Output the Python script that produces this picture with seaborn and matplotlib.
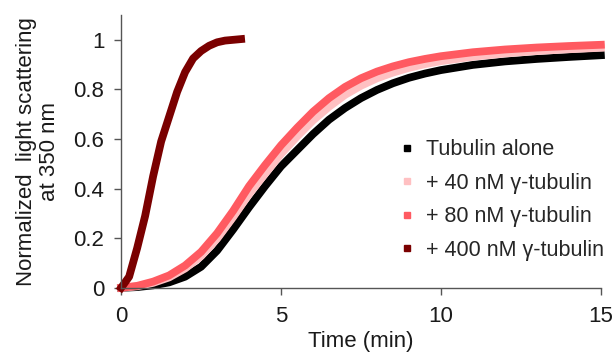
import matplotlib
matplotlib.use("Agg")
import matplotlib.pyplot as plt
from matplotlib.lines import Line2D
import pandas as pd
import seaborn as sns

# Values
time_slow = [0, 0.5, 1, 1.5, 2, 2.5, 3, 3.5, 4, 4.5, 5, 5.5, 6, 6.5, 7, 7.5,
             8, 8.5, 9, 9.5, 10, 11, 12, 13, 14, 15]
tubulin_alone = [0, 0.003, 0.01, 0.022, 0.045, 0.085, 0.15, 0.235, 0.325, 0.41, 0.49,
                 0.555, 0.62, 0.678, 0.725, 0.765, 0.798, 0.825, 0.847, 0.864, 0.878,
                 0.899, 0.913, 0.923, 0.931, 0.938]
gamma_40 = [0, 0.006, 0.02, 0.042, 0.078, 0.128, 0.198, 0.285, 0.378, 0.46, 0.54,
            0.61, 0.675, 0.73, 0.778, 0.815, 0.845, 0.868, 0.887, 0.902, 0.914,
            0.932, 0.945, 0.955, 0.962, 0.968]
gamma_80 = [0, 0.008, 0.025, 0.05, 0.09, 0.145, 0.22, 0.31, 0.41, 0.495, 0.575,
            0.645, 0.71, 0.765, 0.81, 0.845, 0.872, 0.893, 0.91, 0.923, 0.934,
            0.95, 0.961, 0.969, 0.975, 0.98]
time_fast = [0, 0.25, 0.5, 0.75, 1, 1.25, 1.5, 1.75, 2, 2.25, 2.5, 2.75, 3, 3.25,
             3.5, 3.75]
gamma_400 = [0, 0.045, 0.16, 0.29, 0.45, 0.59, 0.69, 0.79, 0.87, 0.925, 0.955,
             0.976, 0.99, 0.997, 1.0, 1.003]

labels = ["Tubulin alone", "+ 40 nM \u03b3-tubulin", "+ 80 nM \u03b3-tubulin",
          "+ 400 nM \u03b3-tubulin"]
colors = ["#000000", "#FFC0C2", "#FF5A61", "#7A0000"]

frames = []
for lab, t, v in [(labels[0], time_slow, tubulin_alone),
                  (labels[1], time_slow, gamma_40),
                  (labels[2], time_slow, gamma_80),
                  (labels[3], time_fast, gamma_400)]:
    frames.append(pd.DataFrame({"time": t, "value": v, "sample": lab}))
df = pd.concat(frames, ignore_index=True)

sns.set_style("ticks")
plt.rcParams["font.family"] = ["Liberation Sans", "DejaVu Sans"]

fig = plt.figure(figsize=(6.15, 3.58), dpi=100)
ax = fig.add_axes([0.197, 0.196, 0.78, 0.762])

sns.lineplot(data=df, x="time", y="value", hue="sample", hue_order=labels,
             palette=colors, linewidth=5.6, sort=False, legend=False, ax=ax,
             solid_capstyle="projecting", solid_joinstyle="round")
for line in ax.get_lines():
    line.set_clip_on(False)

ax.set_xlim(0, 15)
ax.set_ylim(0, 1.1)
ax.set_xticks([0, 5, 10, 15])
ax.set_yticks([0, 0.2, 0.4, 0.6, 0.8, 1])
ax.set_yticklabels(["0", "0.2", "0.4", "0.6", "0.8", "1"])
ax.tick_params(labelsize=16, labelcolor="#1a1a1a", color="#555555",
               length=5, width=1, pad=7)
ax.tick_params(axis="x", pad=8)
for side in ["left", "bottom"]:
    ax.spines[side].set_color("#555555")
    ax.spines[side].set_linewidth(1)
sns.despine(ax=ax)

ax.set_xlabel("Time (min)", fontsize=16, color="#1a1a1a", labelpad=3)
ax.set_ylabel("Normalized  light scattering\nat 350 nm", fontsize=16,
              color="#1a1a1a", labelpad=10, linespacing=1.1)

handles = [Line2D([], [], marker="s", linestyle="none", color=c, markersize=4.5)
           for c in colors]
ax.legend(handles, labels, loc="upper left", bbox_to_anchor=(0.573, 0.545),
          frameon=False, fontsize=15.5, handletextpad=0.4, labelspacing=0.58,
          handlelength=1.0, borderaxespad=0, borderpad=0)

plt.savefig("out.png", dpi=100)
